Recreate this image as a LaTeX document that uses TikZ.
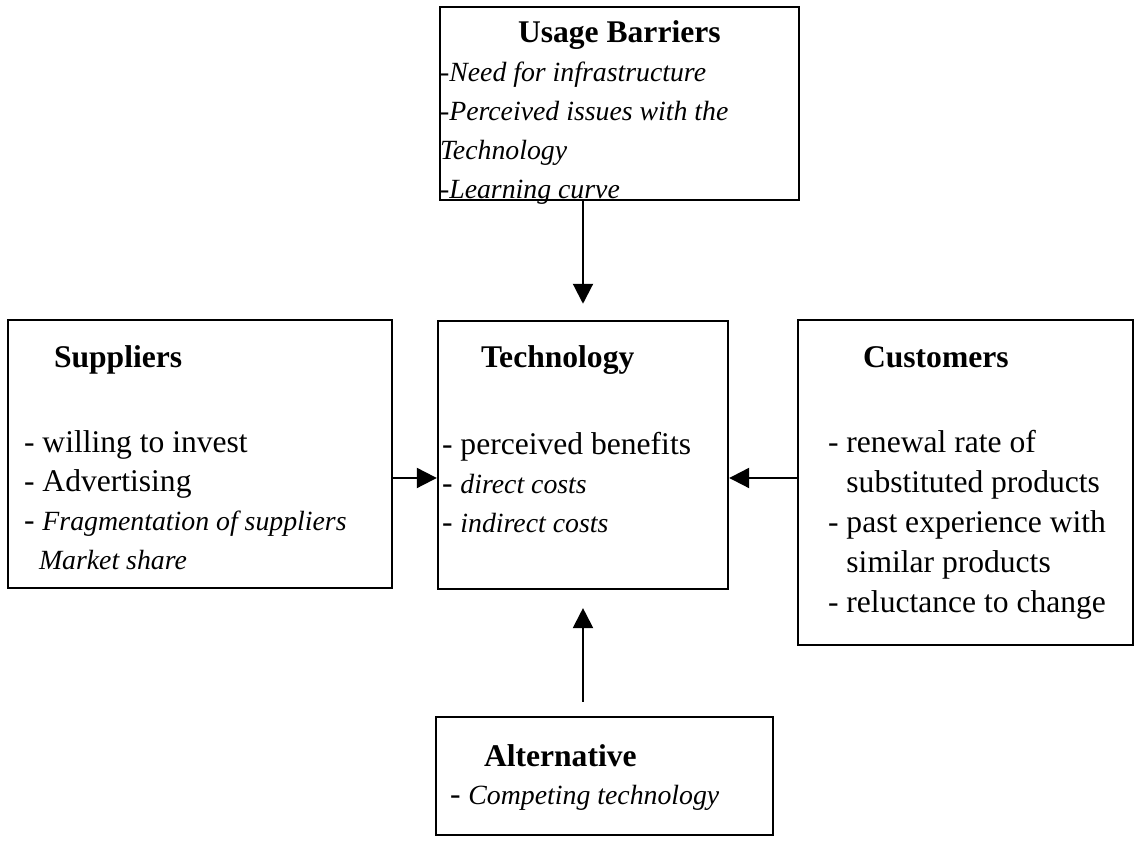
\documentclass[tikz,border=0pt]{standalone}
\usepackage{fontspec}
\setmainfont{Liberation Serif}
\newfontfamily\callig[Scale=0.88]{Liberation Serif}
\newcommand\itl[1]{{\callig\itshape #1}}
\newcommand\stack[1]{\begin{tabular}[t]{@{}l@{}}#1\end{tabular}}
\usetikzlibrary{arrows.meta,fit}
\begin{document}
\begin{tikzpicture}[x=0.38pt, y=-0.38pt, -{Triangle[length=7.6pt,width=7.6pt]}, line width=0.8pt,
  font=\fontsize{12}{14.8}\selectfont,
  main node/.style={draw, line width=0.9pt, inner sep=0pt},
  txt/.style={anchor=base west, inner sep=0pt}]
\useasboundingbox (0,0) rectangle (1134,845);
% boxes
\node[main node, fit={(440,7) (799,200)}] (1) {};
\node[main node, fit={(8,320) (392,588)}] (2) {};
\node[main node, fit={(438,321) (728,589)}] (3) {};
\node[main node, fit={(798,320) (1133,645)}] (4) {};
\node[main node, fit={(436,717) (773,835)}] (5) {};
% texts
\node[txt] (1h) at (517,43) {\textbf{Usage Barriers}};
\node[txt] (1t) at (439,82) {\stack{\itl{-Need for infrastructure}\\\itl{-Perceived issues with the}\\\itl{Technology}\\\itl{-Learning curve}}};
\node[txt] (2h) at (53,368) {\textbf{Suppliers}};
\node[txt] (2t) at (23,453) {\stack{- willing to invest\\- Advertising\\- \itl{Fragmentation of suppliers}\\\hspace*{5.7pt}\itl{Market share}}};
\node[txt] (3h) at (480,368) {\textbf{Technology}};
\node[txt] (3t) at (441,455) {\stack{- perceived benefits\\- \itl{direct costs}\\- \itl{indirect costs}}};
\node[txt] (4h) at (862,368) {\textbf{Customers}};
\node[txt, font=\fontsize{12}{15.2}\selectfont] (4t) at (827,453) {\stack{- renewal rate of\\\phantom{- }substituted products\\- past experience with\\\phantom{- }similar products\\- reluctance to change}};
\node[txt] (5h) at (483,767) {\textbf{Alternative}};
\node[txt] (5t) at (449,805) {- \itl{Competing technology}};
% arrows
\draw[shorten >=6.1pt] (1.south -| 3.north) -- (3.north);
\draw[shorten <=5.3pt, shorten >=6.8pt] (3.south |- 5.north) -- (3.south);
\draw (2.east |- 0,478) -- (3.west |- 0,478);
\draw (4.west |- 0,478) -- (3.east |- 0,478);
\end{tikzpicture}
\end{document}
